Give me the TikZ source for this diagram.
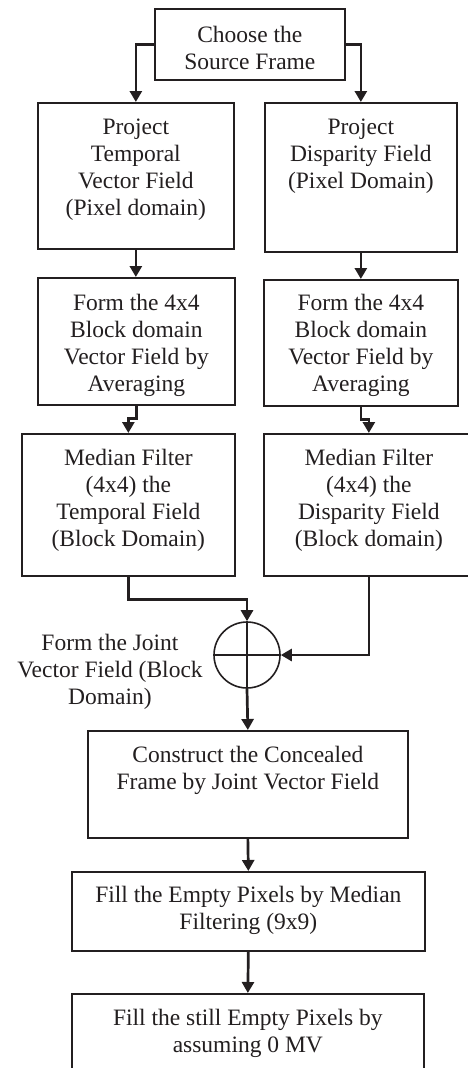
\documentclass[tikz,border=0pt]{standalone}
\usepackage{fontspec}
\setmainfont{Liberation Serif}
\usetikzlibrary{arrows.meta}
\definecolor{ink}{HTML}{231F20}
% text block of a box: fixed size, lines set from the top
\newcommand{\bx}[4]{\parbox[c][#2][t]{#1}{\centering\vspace*{#3}\strut #4}}
\begin{document}
\begin{tikzpicture}[x=1pt,y=-1pt,
  every node/.style={font=\fontsize{23.5}{27}\selectfont, text=ink},
  box/.style={draw=ink, line width=1.7pt, inner sep=0pt, anchor=north west, fill=white},
  flow/.style={draw=ink, line width=2.7pt, -{Triangle[length=11pt,width=12pt]}},
  joint/.style={draw=ink, line width=1.6pt, circle, minimum size=66pt, inner sep=0pt}]
\useasboundingbox (0,0) rectangle (468,1068);

\node[box] (T)  at (154,8)   {\bx{190pt}{71pt}{14.5pt}{Choose the\\Source Frame}};
\node[box] (L1) at (37,102)  {\bx{196pt}{146pt}{12.4pt}{Project\\Temporal\\Vector Field\\(Pixel domain)}};
\node[box] (R1) at (264,102) {\bx{192pt}{149pt}{12.4pt}{Project\\Disparity Field\\(Pixel Domain)}};
\node[box] (L2) at (37,277)  {\bx{197pt}{127pt}{14pt}{Form the 4x4\\Block domain\\Vector Field by\\Averaging}};
\node[box] (R2) at (263,279) {\bx{194pt}{126pt}{12pt}{Form the 4x4\\Block domain\\Vector Field by\\Averaging}};
\node[box] (L3) at (21,433)  {\bx{213pt}{142pt}{13pt}{Median Filter\\(4x4) the\\Temporal Field\\(Block Domain)}};
\node[box] (R3) at (263,433) {\bx{210pt}{142pt}{13pt}{Median Filter\\(4x4) the\\Disparity Field\\(Block domain)}};

\node[joint] (J) at (247,655) {};
\draw[ink, line width=1.2pt] (J.north) -- (J.south) (J.west) -- (J.east);
\node[align=center, inner sep=0pt] (JL) at (110,672) {Form the Joint\\Vector Field (Block\\Domain)};

\node[box] (C)  at (87,730)  {\bx{320pt}{107pt}{12.8pt}{Construct the Concealed\\Frame by Joint Vector Field}};
\node[box] (F1) at (71,871)  {\bx{353pt}{79pt}{11.8pt}{Fill the Empty Pixels by Median\\Filtering (9x9)}};
\node[box] (F2) at (71,993)  {\bx{352pt}{84pt}{13pt}{Fill the still Empty Pixels by\\assuming 0 MV}};

\draw[flow] (T.west) -| (L1.north);
\draw[flow] (T.east) -| (R1.north);
\draw[flow] (L1.south) -- (L1.south |- L2.north);
\draw[flow] (R1.south) -- (R1.south |- R2.north);
\draw[flow] (L2.south) -- ++(0,13) -| (L3.north);
\draw[flow] (R2.south) -- ++(0,13) -| (R3.north);
\draw[flow] (L3.south) -- ++(0,23) -| (J.north);
\draw[flow] (R3.south) |- (J.east);
\draw[flow] (J.south) -- (C.north);
\draw[flow] (C.south) -- (F1.north);
\draw[flow] (F1.south) -- (F2.north);
\end{tikzpicture}
\end{document}
